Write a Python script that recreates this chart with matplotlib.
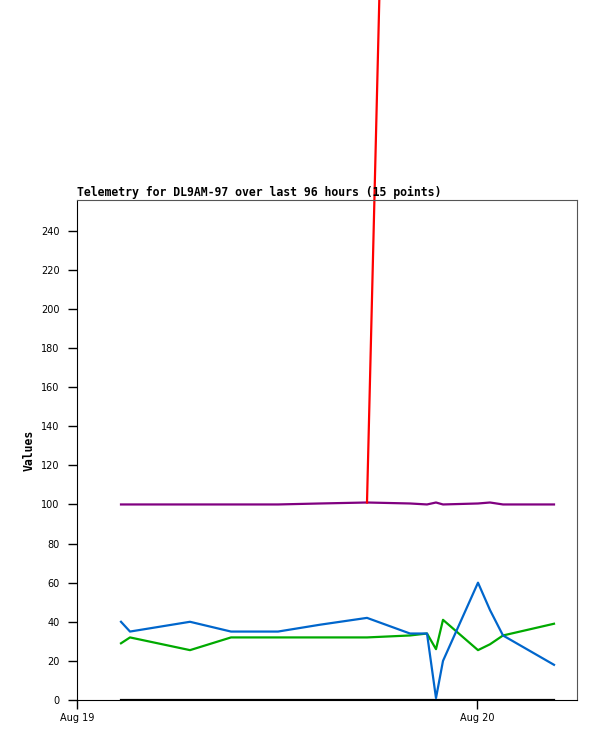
import numpy as np
import matplotlib
matplotlib.use("Agg")
import matplotlib.pyplot as plt

# hours since Aug 19 00:00
hours = [2.64, 3.18, 6.78, 9.24, 12.06, 14.58, 17.4, 19.98, 21.0, 21.54,
         21.96, 24.06, 24.78, 25.56, 28.62]

blue = [40, 35, 40, 35, 35, 38.5, 42, 34, 34, 1, 20, 60, 46, 33, 18]
green = [29, 32, 25.5, 32, 32, 32, 32, 33, 34, 26, 41, 25.5, 28.5, 33, 39]
purple = [100, 100, 100, 100, 100, 100.5, 101, 100.5, 100, 101, 100, 100.5,
          101, 100, 100]
black = [0] * 15
red = [np.nan] * 6 + [101, 1000, 1200, 1200, 1200, 1200, 1200, 1200, 1200]

title = "Telemetry for DL9AM-97 over last 96 hours (15 points)"
xticks = [0, 24]
xlabels = ["Aug 19", "Aug 20"]
yticks = list(range(0, 241, 20))

fig = plt.figure(figsize=(5.97, 7.41), dpi=100)
ax = fig.add_axes([77/597, 41/741, 500/597, 500/741])

ax.plot(hours, black, color="black", lw=1.6)
ax.plot(hours, purple, color="#800080", lw=1.6)
ax.plot(hours, green, color="#00aa00", lw=1.6)
ax.plot(hours, blue, color="#0066cc", lw=1.6)
ax.plot(hours, red, color="#ff0000", lw=1.6, clip_on=False)

ax.set_xlim(0, 30)
ax.set_ylim(0, 255.7)
ax.set_xticks(xticks)
ax.set_xticklabels(xlabels)
ax.set_yticks(yticks)
ax.tick_params(axis="both", direction="out", length=6.5, width=1, labelsize=7)
ax.tick_params(axis="y", pad=6)
ax.tick_params(axis="x", pad=3)

for s in ["top", "right"]:
    ax.spines[s].set_color("#555555")
for s in ["left", "bottom"]:
    ax.spines[s].set_color("black")

ax.set_title(title, loc="left", fontfamily="DejaVu Sans Mono", fontweight="bold",
             fontsize=8.3, pad=3)
ax.set_ylabel("Values", fontfamily="DejaVu Sans Mono", fontweight="bold",
              fontsize=8.3, labelpad=4)

fig.savefig("out.png", dpi=100)
